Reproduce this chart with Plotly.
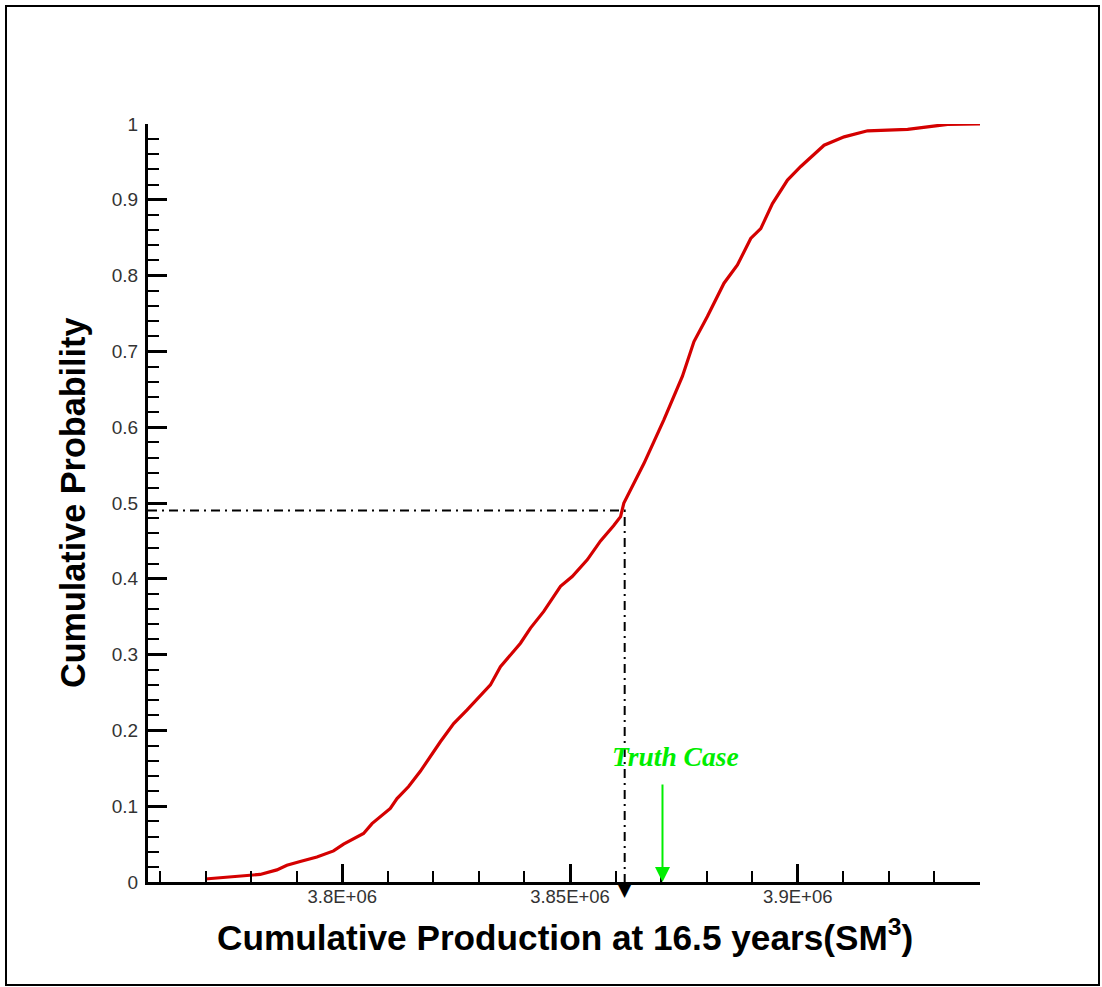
import plotly.graph_objects as go

# Cumulative production (SM3) and empirical cumulative probability
production = [
    3.76989e6, 3.77391e6, 3.77758e6, 3.78198e6, 3.78565e6, 3.78785e6,
    3.79077e6, 3.79444e6, 3.79809e6, 3.80029e6, 3.80468e6, 3.80653e6,
    3.81055e6, 3.81202e6, 3.81457e6, 3.81714e6, 3.82154e6, 3.82446e6,
    3.82741e6, 3.83253e6, 3.83473e6, 3.83912e6, 3.84132e6, 3.84424e6,
    3.84791e6, 3.85048e6, 3.85378e6, 3.85670e6, 3.85956e6, 3.86110e6,
    3.86182e6, 3.86622e6, 3.87062e6, 3.87466e6, 3.87721e6, 3.88015e6,
    3.88380e6, 3.88675e6, 3.88967e6, 3.89187e6, 3.89444e6, 3.89774e6,
    3.90066e6, 3.90578e6, 3.91018e6, 3.91532e6, 3.92411e6, 3.92996e6,
    3.93290e6, 3.94000e6,
]
probability = [
    0.004, 0.006, 0.007, 0.010, 0.016, 0.022,
    0.027, 0.033, 0.041, 0.050, 0.064, 0.077,
    0.097, 0.110, 0.126, 0.146, 0.185, 0.209,
    0.227, 0.260, 0.284, 0.315, 0.335, 0.357,
    0.390, 0.403, 0.425, 0.450, 0.470, 0.482,
    0.500, 0.552, 0.610, 0.667, 0.713, 0.746,
    0.790, 0.814, 0.849, 0.862, 0.895, 0.926,
    0.944, 0.972, 0.983, 0.991, 0.993, 0.997,
    0.9996, 1.000,
]

x_tick_vals = [3.80e6, 3.85e6, 3.90e6]
x_tick_text = ["3.8E+06", "3.85E+06", "3.9E+06"]

median_production = 3.862e6
median_probability = 0.49
truth_production = 3.8703e6
truth_label_prob = 0.165

X_RANGE = [3.75736e6, 3.94e6]
Y_RANGE = [0, 1]

W, H = 1102, 987
L, R, T, B = 148, 122, 124, 105
PW, PH = W - L - R, H - T - B


def px(x):
    return (x - L) / PW


def py(y):
    return (H - B - y) / PH


fig = go.Figure()

# dash-dot guide lines to the median
fig.add_trace(go.Scatter(
    x=[X_RANGE[0], median_production, median_production],
    y=[median_probability, median_probability, 0],
    mode="lines",
    line=dict(color="black", width=2, dash="9px,5px,2px,5px"),
    hoverinfo="skip",
))

# CDF curve
fig.add_trace(go.Scatter(
    x=production, y=probability, mode="lines",
    line=dict(color="#d40000", width=3.2),
    cliponaxis=False,
))

annotations = [
    # median marker below the axis
    dict(x=median_production, y=0, xref="x", yref="y", text="▼",
         showarrow=False, yanchor="top", yshift=4,
         font=dict(family="DejaVu Sans", size=17, color="black")),
    # truth case arrow
    dict(x=truth_production, y=0, xref="x", yref="y", text="",
         showarrow=True, ax=0, ay=-99, axref="pixel", ayref="pixel",
         arrowhead=2, arrowwidth=2, arrowsize=1.5, arrowcolor="#00ee00"),
    dict(x=3.87319e6, y=truth_label_prob, xref="x", yref="y",
         text="<b><i>Truth Case</i></b>", showarrow=False,
         font=dict(family="Liberation Serif", size=27.5, color="#00ee00")),
    # axis titles
    dict(x=px(73), y=py(503), xref="paper", yref="paper",
         text="<b>Cumulative Probability</b>", textangle=-90,
         showarrow=False, xanchor="center", yanchor="middle",
         font=dict(family="Liberation Sans", size=34.2, color="black")),
    dict(x=px(565), y=py(935), xref="paper", yref="paper",
         text="<b>Cumulative Production at 16.5 years(SM<sup>3</sup>)</b>",
         showarrow=False, xanchor="center", yanchor="middle",
         font=dict(family="Liberation Sans", size=35.2, color="black")),
]

fig.update_layout(
    width=W, height=H,
    margin=dict(l=L, r=R, t=T, b=B),
    paper_bgcolor="white", plot_bgcolor="white",
    showlegend=False,
    annotations=annotations,
    shapes=[dict(type="rect", xref="paper", yref="paper",
                 x0=px(6), x1=px(1099), y0=py(985), y1=py(6),
                 line=dict(color="black", width=2), layer="below")],
)

fig.update_xaxes(
    range=X_RANGE, showgrid=False, zeroline=False,
    showline=True, linecolor="black", linewidth=3,
    tickmode="array", tickvals=x_tick_vals, ticktext=x_tick_text,
    ticks="inside", ticklen=18, tickwidth=3, tickcolor="black",
    ticklabelstandoff=-4,
    tickfont=dict(family="Liberation Sans", size=18.5, color="#333333"),
    minor=dict(tickmode="linear", tick0=3.76e6, dtick=1e4, ticks="inside",
               ticklen=11, tickwidth=1.5, tickcolor="black", showgrid=False),
)
fig.update_yaxes(
    range=Y_RANGE, showgrid=False, zeroline=False,
    showline=True, linecolor="black", linewidth=3,
    tickmode="linear", tick0=0, dtick=0.1,
    ticks="inside", ticklen=19, tickwidth=3, tickcolor="black",
    ticklabelstandoff=3,
    tickfont=dict(family="Liberation Sans", size=19, color="#333333"),
    minor=dict(tickmode="linear", tick0=0, dtick=0.02, ticks="inside",
               ticklen=11, tickwidth=1.5, tickcolor="black", showgrid=False),
)

fig.write_html("out.html")
